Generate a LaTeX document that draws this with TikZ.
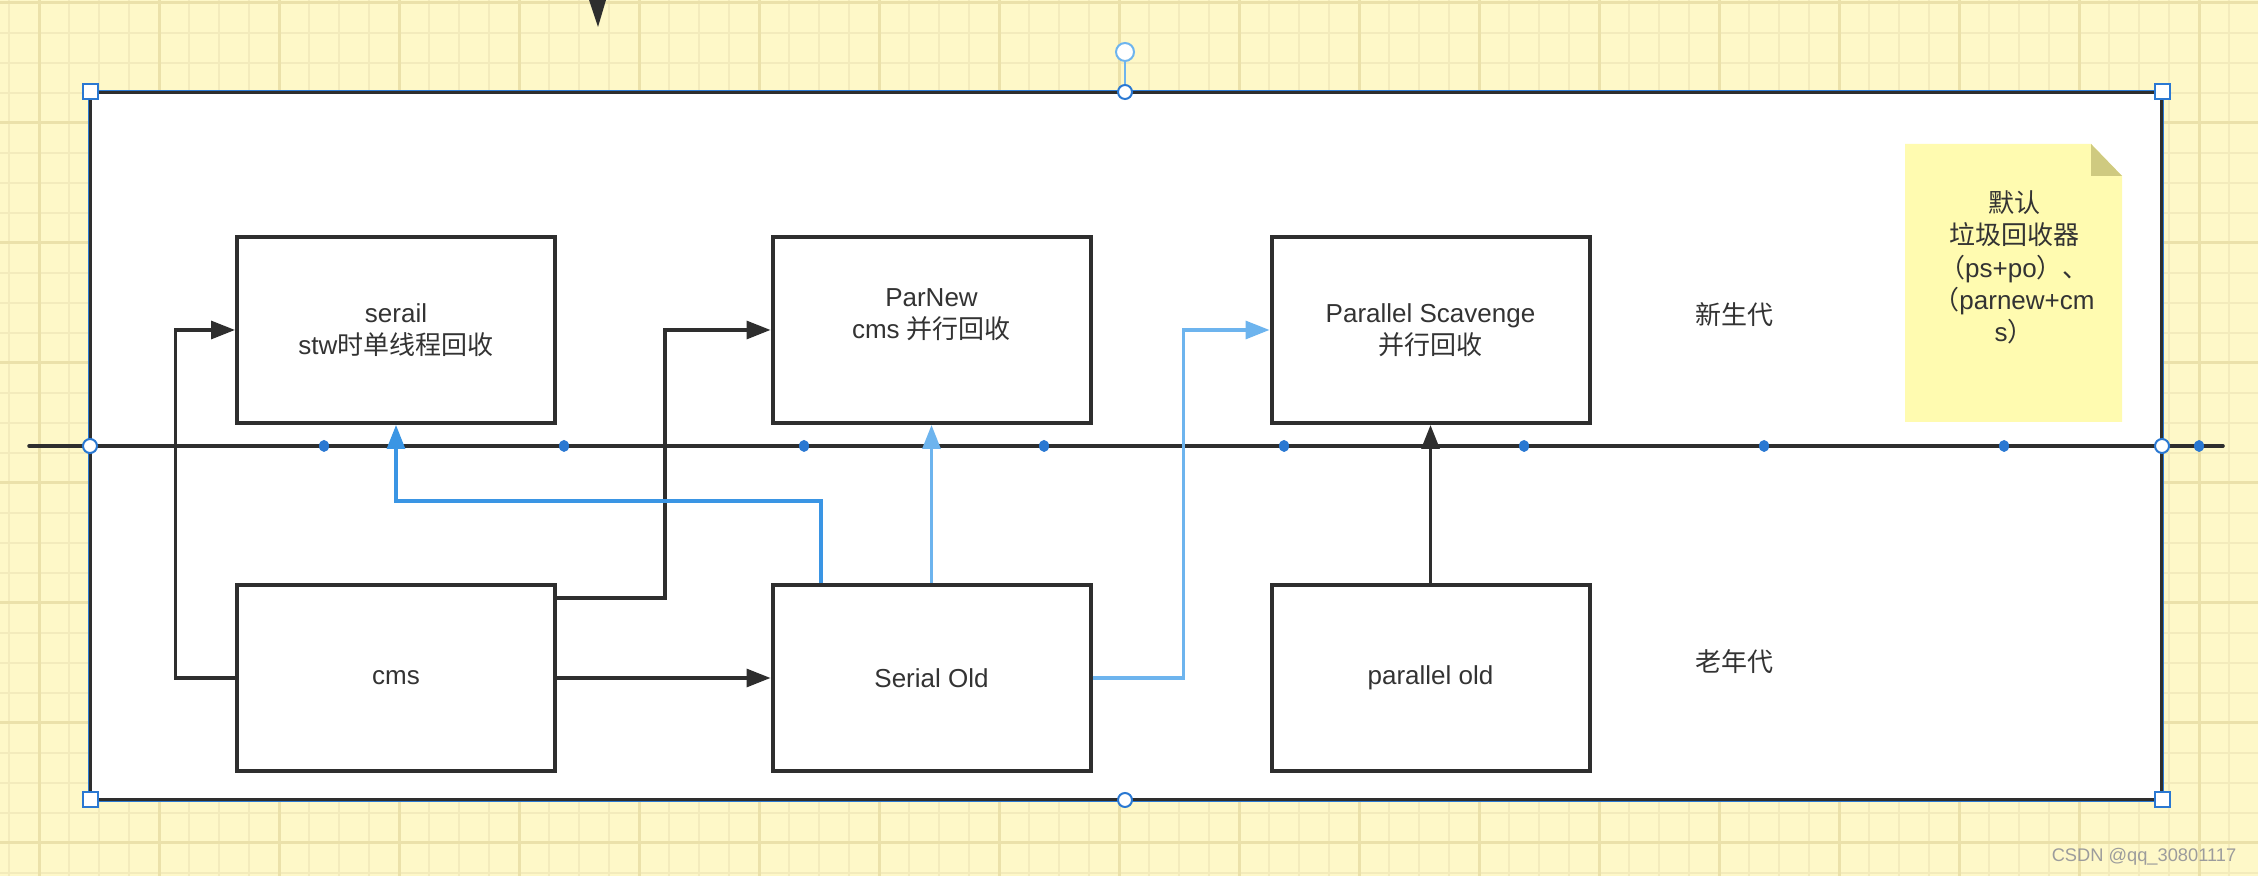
\documentclass[tikz,border=0pt]{standalone}
\usepackage{fontspec}
\setmainfont{Liberation Sans}
\newfontfamily\cjk{Noto Sans CJK SC}
\usetikzlibrary{arrows.meta}
\definecolor{papel}{HTML}{FEF8C8}
\definecolor{grade}{HTML}{F3EBBC}
\definecolor{gradeforte}{HTML}{EBE1AA}
\definecolor{borda}{HTML}{2E2E2E}
\definecolor{texto}{HTML}{333333}
\definecolor{azul}{HTML}{3A95E4}
\definecolor{azulclaro}{HTML}{6DB4EE}
\definecolor{selecao}{HTML}{2A78D2}
\definecolor{notafundo}{HTML}{FFFBB0}
\definecolor{notadobra}{HTML}{CFCA80}
\definecolor{marca}{HTML}{9C9C9C}

\begin{document}
\begin{tikzpicture}[
    every node/.style={font=\fontsize{7.4pt}{9.1pt}\selectfont, text=texto},
    caixa/.style={rectangle, draw=borda, line width=0.04cm, fill=white, minimum width=3.18cm, minimum height=1.86cm, inner sep=0pt, align=center},
    seta/.style={draw=borda, line width=0.032cm, -{Triangle[length=0.24cm, width=0.18cm]}},
    setaazul/.style={seta, draw=azul},
    setaclara/.style={seta, draw=azulclaro},
    alcaq/.style={rectangle, draw=selecao, line width=0.02cm, fill=white, minimum size=0.15cm, inner sep=0pt}, % cantos da selecao
    alcac/.style={circle, draw=selecao, line width=0.02cm, fill=white, minimum size=0.14cm, inner sep=0pt}
    ]
    \useasboundingbox (0,0) rectangle (22.58,-8.76);
    \fill[papel] (0,0) rectangle (22.58,-8.76);
    \foreach \x in {0.09,0.39,...,22.58} \draw[grade, line width=0.02cm] (\x,0) -- (\x,-8.76);
    \foreach \y in {-0.027,-0.327,...,-8.76} \draw[grade, line width=0.02cm] (0,\y) -- (22.58,\y);
    \foreach \x in {0.39,1.59,...,22.58} \draw[gradeforte, line width=0.03cm] (\x,0) -- (\x,-8.76);
    \foreach \y in {-0.027,-1.227,...,-8.76} \draw[gradeforte, line width=0.03cm] (0,\y) -- (22.58,\y);
    \fill[borda] (5.89,0) -- (6.06,0) -- (5.98,-0.27) -- cycle;

    % moldura
    \draw[borda, fill=white, line width=0.035cm] (0.90,-0.92) rectangle (21.62,-8.00);
    \draw[selecao, line width=0.012cm] (0.885,-0.905) rectangle (21.635,-8.015);

    % linha que separa as geracoes
    \coordinate (linhaE) at (0.29,-4.46);
    \coordinate (linhaD) at (22.23,-4.46);
    \draw[borda, line width=0.035cm, line cap=round] (linhaE) -- (linhaD);
    \foreach \x in {3.24,5.64,...,20.1,21.99} \fill[selecao] (\x,-4.46) ellipse (0.05 and 0.06);

    \node[caixa] (serail) at (3.96,-3.30) {serail\\stw{\cjk 时单线程回收}};
    \node[caixa] (parnew) at (9.315,-3.30) {ParNew\\cms {\cjk 并行回收}\\\mbox{}};
    \node[caixa] (ps) at (14.305,-3.30) {Parallel Scavenge\\{\cjk 并行回收}};
    \node[caixa] (cms) at (3.96,-6.78) {cms};
    \node[caixa] (serialold) at (9.315,-6.78) {Serial Old};
    \node[caixa] (parold) at (14.305,-6.78) {parallel old};

    \node (novo) at (17.34,-3.15) {\cjk 新生代};
    \node (velho) at (17.34,-6.62) {\cjk 老年代};

    \draw[seta] (cms.west) -- ++(-0.595,0) |- (serail.west);
    \draw[seta] ([yshift=0.80cm]cms.east) -- ++(1.08,0) |- (parnew.west);
    \draw[seta] (cms.east) -- (serialold.west);
    \draw[setaazul] ([xshift=-1.105cm]serialold.north) -- ++(0,0.82) -| (serail.south);
    \draw[setaclara] (serialold.north) -- (parnew.south);
    \draw[setaclara] (serialold.east) -- ++(0.91,0) |- (ps.west);
    \draw[seta] (parold.north) -- (ps.south);

    % nota amarela
    \fill[notafundo] (19.05,-1.44) -- (20.91,-1.44) -- (21.22,-1.76) -- (21.22,-4.22) -- (19.05,-4.22) -- cycle;
    \fill[notadobra] (20.91,-1.44) -- (21.22,-1.76) -- (20.91,-1.76) -- cycle;
    \node[align=center, font=\fontsize{7.4pt}{9.2pt}\selectfont] (nota) at (20.14,-2.675) {{\cjk 默认}\\{\cjk 垃圾回收器}\\{\cjk （}ps+po{\cjk ）、}\\{\cjk （}parnew+cm\\s{\cjk ）}};

    % alcas da selecao
    \node[alcac] (linE) at (0.90,-4.46) {};
    \node[alcac] (linD) at (21.62,-4.46) {};
    \node[alcaq] (c1) at (0.90,-0.92) {};
    \node[alcaq] (c2) at (21.62,-0.92) {};
    \node[alcaq] (c3) at (0.90,-8.00) {};
    \node[alcaq] (c4) at (21.62,-8.00) {};
    \node[alcac] (mcima) at (11.25,-0.92) {};
    \node[alcac] (mbaixo) at (11.25,-8.00) {};
    \node[alcac, draw=azulclaro, minimum size=0.18cm] (giro) at (11.25,-0.52) {};
    \draw[azulclaro, line width=0.015cm] (giro) -- (mcima);

    \node[font=\fontsize{5.2pt}{6pt}\selectfont, text=marca] (csdn) at (21.44,-8.57) {CSDN @qq\_30801117};
\end{tikzpicture}
\end{document}
